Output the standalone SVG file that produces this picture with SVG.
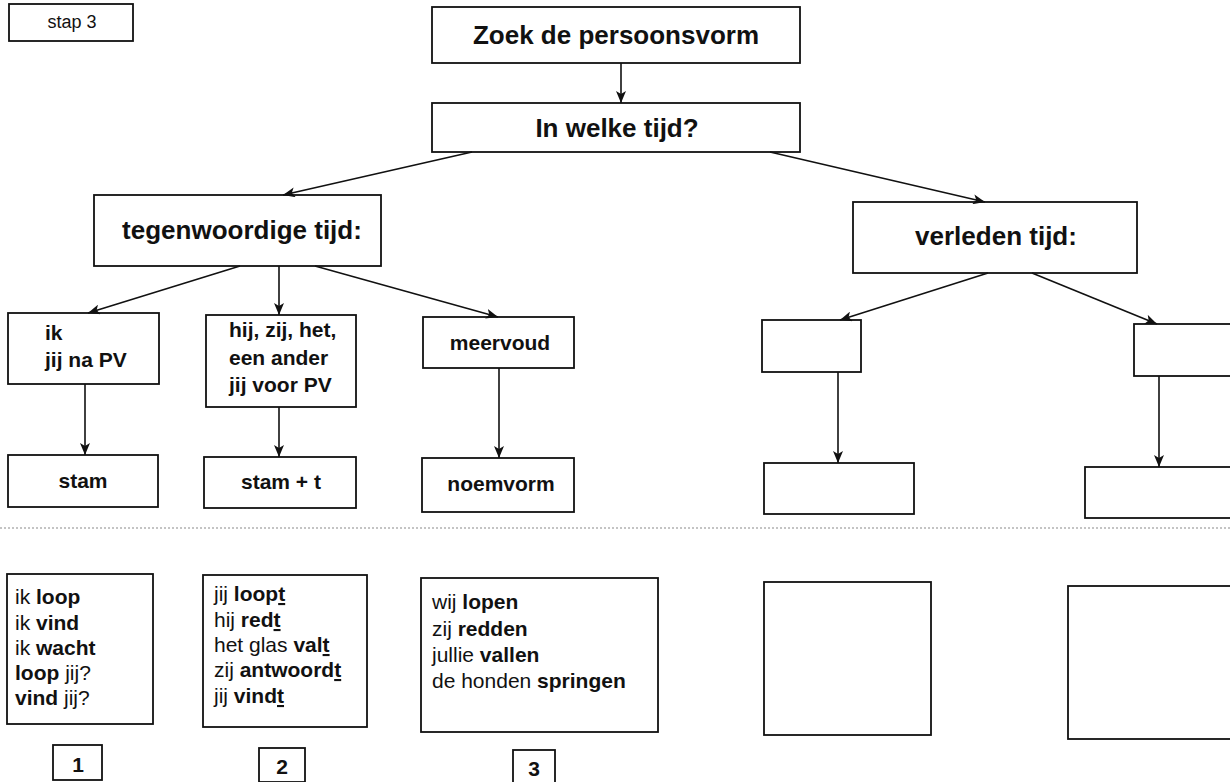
<svg xmlns="http://www.w3.org/2000/svg" width="1230" height="782" viewBox="0 0 1230 782">
<style>
  .box { fill: #ffffff; stroke: #111111; stroke-width: 1.8; }
  .edge { fill: none; stroke: #111111; stroke-width: 1.6; }
  .big { font-family: "Liberation Sans", Arial, sans-serif; font-size: 26px; font-weight: bold; fill: #111111; }
  .mid { font-family: "Liberation Sans", Arial, sans-serif; font-size: 21px; font-weight: bold; fill: #111111; }
  .ex { font-family: "Liberation Sans", Arial, sans-serif; font-size: 21px; font-weight: normal; fill: #111111; }
  .b { font-weight: bold; }
  .u { text-decoration: underline; }
  .small { font-family: "Liberation Sans", Arial, sans-serif; font-size: 18px; fill: #111111; }
  .num { font-family: "Liberation Sans", Arial, sans-serif; font-size: 21px; font-weight: bold; fill: #111111; }
  .sep { fill: none; stroke: #c4c4c4; stroke-width: 2; stroke-dasharray: 2 2; }
</style>
<defs>
  <marker id="arr" viewBox="0 0 12 10" refX="12" refY="5" markerWidth="12" markerHeight="10" markerUnits="userSpaceOnUse" orient="auto">
    <path d="M0,0 L12,5 L0,10 L3,5 Z" fill="#111111"/>
  </marker>
</defs>

<rect width="1230" height="782" fill="#ffffff"/>

<line class="sep" x1="0" y1="528" x2="1230" y2="528"/>

<g id="stap3">
  <rect class="box" x="9" y="4" width="124" height="37"/>
  <text class="small" x="72" y="28" text-anchor="middle">stap 3</text>
</g>

<g id="zoek">
  <rect class="box" x="432" y="7" width="368" height="56"/>
  <text class="big" x="616" y="44" text-anchor="middle">Zoek de persoonsvorm</text>
</g>

<g id="tijd">
  <rect class="box" x="432" y="103" width="368" height="49"/>
  <text class="big" x="617" y="137" text-anchor="middle">In welke tijd?</text>
</g>

<g id="tegenwoordig">
  <rect class="box" x="94" y="195" width="287" height="71"/>
  <text class="big" x="242" y="239" text-anchor="middle">tegenwoordige tijd:</text>
</g>

<g id="verleden">
  <rect class="box" x="853" y="202" width="284" height="71"/>
  <text class="big" x="996" y="245" text-anchor="middle">verleden tijd:</text>
</g>

<g id="ik">
  <rect class="box" x="8" y="313" width="151" height="71"/>
  <text class="mid" x="45" y="340">ik</text>
  <text class="mid" x="45" y="367">jij na PV</text>
</g>

<g id="hij">
  <rect class="box" x="206" y="315" width="150" height="92"/>
  <text class="mid" x="229" y="337">hij, zij, het,</text>
  <text class="mid" x="229" y="365">een ander</text>
  <text class="mid" x="229" y="392">jij voor PV</text>
</g>

<g id="meervoud">
  <rect class="box" x="423" y="317" width="151" height="51"/>
  <text class="mid" x="500" y="350" text-anchor="middle">meervoud</text>
</g>

<g id="stam">
  <rect class="box" x="8" y="455" width="150" height="52"/>
  <text class="mid" x="83" y="488" text-anchor="middle">stam</text>
</g>

<g id="stamt">
  <rect class="box" x="204" y="457" width="152" height="51"/>
  <text class="mid" x="281" y="489" text-anchor="middle">stam + t</text>
</g>

<g id="noemvorm">
  <rect class="box" x="422" y="458" width="152" height="54"/>
  <text class="mid" x="501" y="491" text-anchor="middle">noemvorm</text>
</g>

<g id="leeg1">
  <rect class="box" x="762" y="320" width="99" height="52"/>
</g>
<g id="leeg2">
  <rect class="box" x="1134" y="324" width="110" height="52"/>
</g>
<g id="leeg3">
  <rect class="box" x="764" y="463" width="150" height="51"/>
</g>
<g id="leeg4">
  <rect class="box" x="1085" y="467" width="160" height="51"/>
</g>

<g id="voorbeeld1">
  <rect class="box" x="7" y="574" width="146" height="150"/>
  <text class="ex" x="15" y="604">ik <tspan class="b">loop</tspan></text>
  <text class="ex" x="15" y="630">ik <tspan class="b">vind</tspan></text>
  <text class="ex" x="15" y="655">ik <tspan class="b">wacht</tspan></text>
  <text class="ex" x="15" y="680"><tspan class="b">loop</tspan> jij?</text>
  <text class="ex" x="15" y="705"><tspan class="b">vind</tspan> jij?</text>
</g>

<g id="voorbeeld2">
  <rect class="box" x="203" y="575" width="164" height="152"/>
  <text class="ex" x="214" y="601">jij <tspan class="b">loop</tspan><tspan class="b u">t</tspan></text>
  <text class="ex" x="214" y="627">hij <tspan class="b">red</tspan><tspan class="b u">t</tspan></text>
  <text class="ex" x="214" y="652">het glas <tspan class="b">val</tspan><tspan class="b u">t</tspan></text>
  <text class="ex" x="214" y="677">zij <tspan class="b">antwoord</tspan><tspan class="b u">t</tspan></text>
  <text class="ex" x="214" y="703">jij <tspan class="b">vind</tspan><tspan class="b u">t</tspan></text>
</g>

<g id="voorbeeld3">
  <rect class="box" x="421" y="578" width="237" height="154"/>
  <text class="ex" x="432" y="609">wij <tspan class="b">lopen</tspan></text>
  <text class="ex" x="432" y="636">zij <tspan class="b">redden</tspan></text>
  <text class="ex" x="432" y="662">jullie <tspan class="b">vallen</tspan></text>
  <text class="ex" x="432" y="688">de honden <tspan class="b">springen</tspan></text>
</g>

<g id="voorbeeld4">
  <rect class="box" x="764" y="582" width="167" height="153"/>
</g>
<g id="voorbeeld5">
  <rect class="box" x="1068" y="586" width="180" height="153"/>
</g>

<g id="nr1">
  <rect class="box" x="53" y="745" width="49" height="35"/>
  <text class="num" x="78" y="772" text-anchor="middle">1</text>
</g>
<g id="nr2">
  <rect class="box" x="259" y="748" width="46" height="34"/>
  <text class="num" x="282" y="774" text-anchor="middle">2</text>
</g>
<g id="nr3">
  <rect class="box" x="513" y="750" width="42" height="40"/>
  <text class="num" x="534" y="776" text-anchor="middle">3</text>
</g>

<g id="connectors">
  <line class="edge" x1="621" y1="63" x2="621" y2="103" marker-end="url(#arr)"/>
  <line class="edge" x1="472" y1="152" x2="283" y2="195" marker-end="url(#arr)"/>
  <line class="edge" x1="770" y1="152" x2="985" y2="202" marker-end="url(#arr)"/>
  <line class="edge" x1="240" y1="266" x2="88" y2="313" marker-end="url(#arr)"/>
  <line class="edge" x1="279" y1="266" x2="279" y2="315" marker-end="url(#arr)"/>
  <line class="edge" x1="315" y1="266" x2="498" y2="317" marker-end="url(#arr)"/>
  <line class="edge" x1="85" y1="384" x2="85" y2="455" marker-end="url(#arr)"/>
  <line class="edge" x1="279" y1="407" x2="279" y2="457" marker-end="url(#arr)"/>
  <line class="edge" x1="499" y1="368" x2="499" y2="458" marker-end="url(#arr)"/>
  <line class="edge" x1="988" y1="273" x2="840" y2="320" marker-end="url(#arr)"/>
  <line class="edge" x1="1032" y1="273" x2="1157" y2="324" marker-end="url(#arr)"/>
  <line class="edge" x1="838" y1="372" x2="838" y2="463" marker-end="url(#arr)"/>
  <line class="edge" x1="1159" y1="376" x2="1159" y2="467" marker-end="url(#arr)"/>
</g>
</svg>
